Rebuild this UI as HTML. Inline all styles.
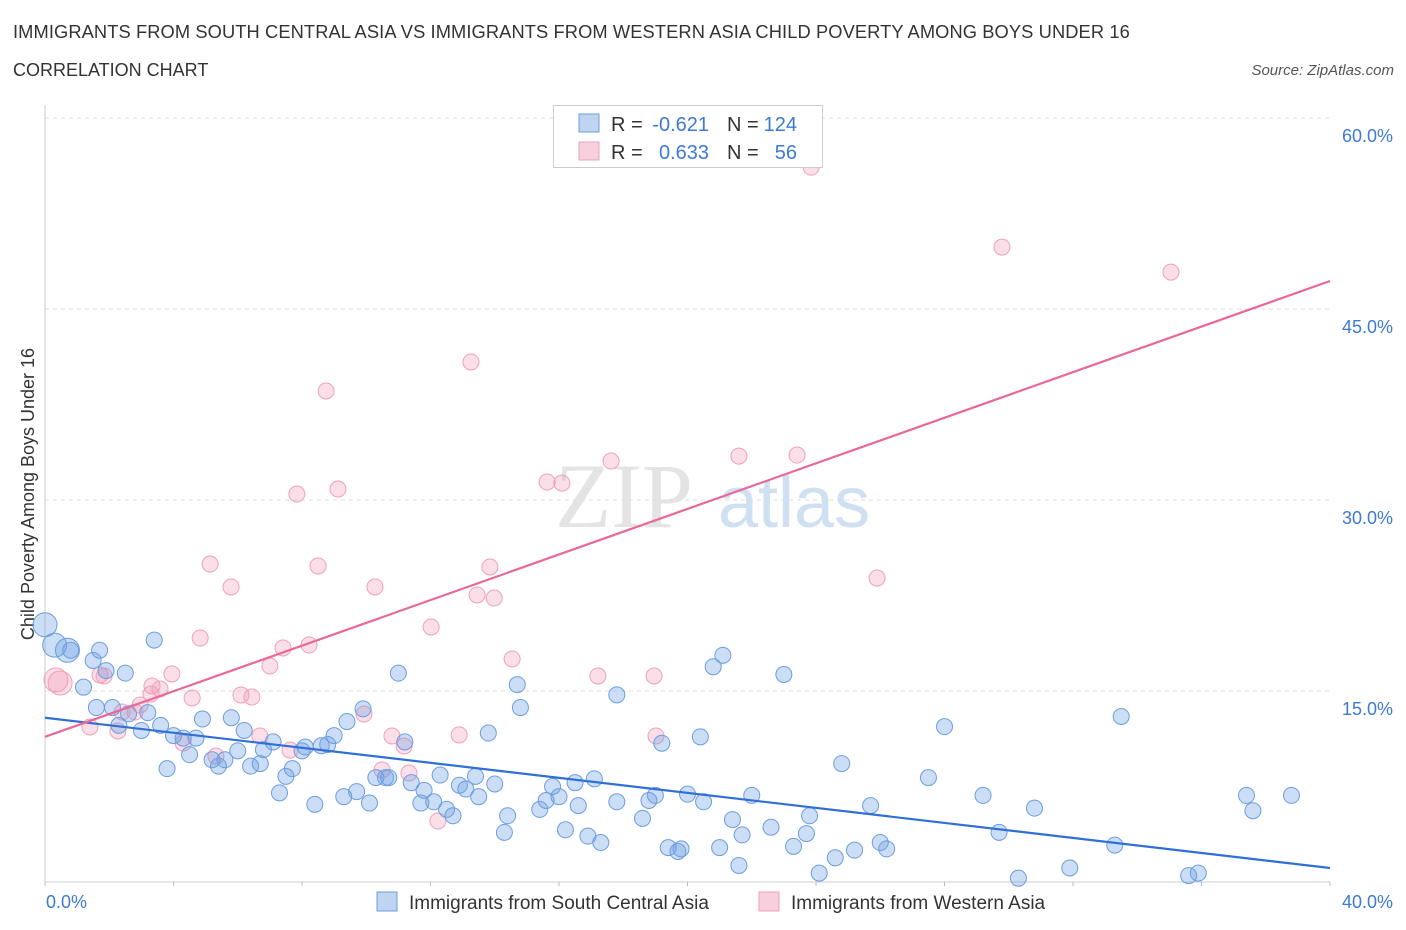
<!DOCTYPE html>
<html><head><meta charset="utf-8">
<style>
body{margin:0;background:#fff;font-family:"Liberation Sans",sans-serif;}
#wrap{position:relative;width:1406px;height:930px;overflow:hidden;}
.t{position:absolute;color:#333;}
</style></head>
<body>
<div id="wrap">
<div class="t" style="left:13px;top:21px;font-size:18.3px;letter-spacing:0.1px;white-space:nowrap;">IMMIGRANTS FROM SOUTH CENTRAL ASIA VS IMMIGRANTS FROM WESTERN ASIA CHILD POVERTY AMONG BOYS UNDER 16</div>
<div class="t" style="left:13px;top:60px;font-size:18px;">CORRELATION CHART</div>
<div class="t" style="right:12px;top:62px;font-size:15px;font-style:italic;color:#555;">Source: ZipAtlas.com</div>
<svg id="chart" width="1406" height="930" style="position:absolute;left:0;top:0"></svg>
</div>
<script>
const blueX=[0.0,0.3,0.7,0.8,1.7,1.5,1.2,1.9,2.5,3.4,1.6,2.1,2.3,2.6,3.0,3.2,3.6,3.8,4.0,4.3,4.5,4.7,4.9,5.2,5.4,5.6,5.8,6.0,6.2,6.4,6.7,6.8,7.1,7.3,7.5,7.7,8.0,8.1,8.4,8.6,8.8,9.0,9.3,9.4,9.7,9.9,10.1,10.3,10.6,10.7,11.0,11.2,11.4,11.7,11.8,12.1,12.3,12.5,12.7,12.9,13.1,13.4,13.5,13.8,14.0,14.3,14.4,14.7,14.8,15.4,15.6,15.8,16.0,16.2,16.5,16.6,16.9,17.1,17.3,17.8,17.8,18.6,18.8,19.0,19.2,19.4,19.7,19.8,20.0,20.4,20.5,20.8,21.0,21.1,21.4,21.6,21.7,22.0,22.6,23.0,23.3,23.7,23.8,24.1,24.6,24.8,25.2,25.7,26.0,26.2,27.5,28.0,29.2,29.7,30.3,30.8,31.9,33.3,33.5,35.6,35.9,37.4,37.6,38.8];
const blueY=[20.2,18.6,18.2,18.2,18.2,17.4,15.3,16.6,16.4,19.0,13.7,13.7,12.3,13.2,11.9,13.3,12.3,8.9,11.5,11.3,10.0,11.3,12.8,9.6,9.1,9.6,12.9,10.3,11.9,9.1,9.3,10.4,11.0,7.0,8.3,8.9,10.3,10.6,6.1,10.7,10.8,11.5,6.7,12.6,7.1,13.6,6.2,8.2,8.2,8.2,16.4,11.0,7.8,6.2,7.2,6.3,8.4,5.7,5.2,7.6,7.3,8.3,6.7,11.7,7.7,3.9,5.2,15.5,13.7,5.7,6.4,7.5,6.7,4.1,7.8,6.0,3.6,8.1,3.1,6.3,14.7,5.0,6.4,6.8,10.9,2.7,2.4,2.6,6.9,11.4,6.3,16.9,2.7,17.8,4.9,1.3,3.7,6.8,4.3,16.3,2.8,3.8,5.2,0.7,1.9,9.3,2.5,6.0,3.1,2.6,8.2,12.2,6.8,3.9,0.3,5.8,1.1,2.9,13.0,0.5,0.7,6.8,5.6,6.8];
const pinkX=[0.34,0.47,1.71,1.40,1.84,2.40,2.80,2.96,3.33,3.58,3.95,4.30,4.58,4.83,5.14,5.79,6.10,6.44,6.69,7.00,7.41,7.63,7.84,8.22,8.50,8.75,9.12,9.93,10.27,10.80,11.18,11.33,12.02,12.23,12.89,13.26,13.45,13.85,13.98,14.54,15.63,16.09,17.21,17.62,18.96,19.02,21.60,23.41,23.85,25.90,29.79,35.05,10.49,5.32,3.30,2.27];
const pinkY=[15.86,15.63,16.26,12.17,16.18,13.35,13.35,13.90,15.39,15.16,16.34,10.91,14.45,19.16,24.97,23.17,14.69,14.53,11.47,16.97,18.38,10.36,30.47,18.61,24.82,38.56,30.86,13.19,23.17,11.47,10.68,8.56,20.03,4.79,11.55,40.84,22.54,24.74,22.30,17.51,31.41,31.33,16.18,33.06,16.18,11.47,33.45,33.53,56.14,23.87,49.86,47.90,8.8,9.89,14.76,11.86];
const blueLine=[12.9,1.1];
const pinkLine=[11.4,47.2];
const yTicks=[15,30,45,60];
const yTickLabels=["15.0%","30.0%","45.0%","60.0%"];

const svg=document.getElementById('chart');
const NS='http://www.w3.org/2000/svg';
const X0=45,X1=1330,Y0=882,YPER=191/15;
const sx=v=>X0+(v/40)*(X1-X0);
const sy=v=>Y0-v*YPER;
function mk(tag,attrs){const e=document.createElementNS(NS,tag);for(const k in attrs)e.setAttribute(k,attrs[k]);svg.appendChild(e);return e;}

let w=mk('text',{x:555,y:527,'font-size':92,'font-family':'Liberation Serif,serif',fill:'#e4e4e4'});w.textContent='ZIP';


let w2=mk('text',{x:718,y:527,'font-size':72,'font-family':'Liberation Sans,sans-serif',fill:'#cfe0f3'});w2.textContent='atlas';



yTicks.forEach((t,i)=>{
  const g=mk('line',{x1:X0,x2:X1,y1:sy(t),y2:sy(t),stroke:'#ddd','stroke-dasharray':'4,4'});
  
  
  const l=mk('text',{x:1393,y:sy(t)+24,'text-anchor':'end','font-size':18,fill:'#3d7ad6'});
  l.textContent=yTickLabels[i];
  
  
});
let ax=mk('line',{x1:X0,x2:X0,y1:105,y2:Y0,stroke:'#ccc'});


let bx=mk('line',{x1:X0,x2:X1,y1:Y0,y2:Y0,stroke:'#ccc'});


for(let i=0;i<=10;i++){
  const tk=mk('line',{x1:sx(i*4),x2:sx(i*4),y1:Y0,y2:Y0+4,stroke:'#bbb'});
  
  
}
let xl0=mk('text',{x:46,y:908,'font-size':18,fill:'#3d7ad6'});xl0.textContent='0.0%';


let xl1=mk('text',{x:1393,y:908,'text-anchor':'end','font-size':18,fill:'#3d7ad6'});xl1.textContent='40.0%';


let yt=mk('text',{x:0,y:0,'font-size':18,fill:'#333',transform:'translate(34,494) rotate(-90)','text-anchor':'middle'});yt.textContent='Child Poverty Among Boys Under 16';



pinkX.forEach((x,i)=>{
  const big=i<2;
  const c=mk('circle',{cx:sx(x),cy:sy(pinkY[i]),r:big?12:8,fill:'rgba(240,150,180,0.3)',stroke:'#f0a0bb','stroke-width':1});
  
  
});
blueX.forEach((x,i)=>{
  const big=i<3;
  const c=mk('circle',{cx:sx(x),cy:sy(blueY[i]),r:big?12:8,fill:'rgba(110,160,225,0.35)',stroke:'#6c9de0','stroke-width':1});
  
  
});
let bl=mk('line',{x1:sx(0),y1:sy(blueLine[0]),x2:sx(40),y2:sy(blueLine[1]),stroke:'#2f6fd6','stroke-width':2.2});


let pl=mk('line',{x1:sx(0),y1:sy(pinkLine[0]),x2:sx(40),y2:sy(pinkLine[1]),stroke:'#e8689a','stroke-width':2.2});



let lb=mk('rect',{x:553.5,y:105.5,width:269,height:62,fill:'#fff',stroke:'#ccc'});


[[123,'rgba(110,160,225,0.45)','#6c9de0','-0.621','124'],[151,'rgba(240,150,180,0.45)','#f0a0bb','0.633','56']].forEach(r=>{
  const s=mk('rect',{x:579,y:r[0]-9,width:20,height:18,fill:r[1],stroke:r[2]});
  
  
  const a=mk('text',{x:611,y:r[0]+8,'font-size':20,fill:'#333'});a.textContent='R =';
  
  
  const b=mk('text',{x:709,y:r[0]+8,'font-size':20,fill:'#3d7ad6','text-anchor':'end'});b.textContent=r[3];
  
  
  const c=mk('text',{x:727,y:r[0]+8,'font-size':20,fill:'#333'});c.textContent='N =';
  
  
  const d=mk('text',{x:797,y:r[0]+8,'font-size':20,fill:'#3d7ad6','text-anchor':'end'});d.textContent=r[4];
  
  
});
[[377,'rgba(110,160,225,0.45)','#6c9de0','Immigrants from South Central Asia'],[759,'rgba(240,150,180,0.45)','#f0a0bb','Immigrants from Western Asia']].forEach(r=>{
  const s=mk('rect',{x:r[0],y:892,width:20,height:19,fill:r[1],stroke:r[2]});
  
  
  const t=mk('text',{x:r[0]+32,y:909,'font-size':19,fill:'#333'});
  t.textContent=r[3];
  
  
});
</script>
</body></html>
